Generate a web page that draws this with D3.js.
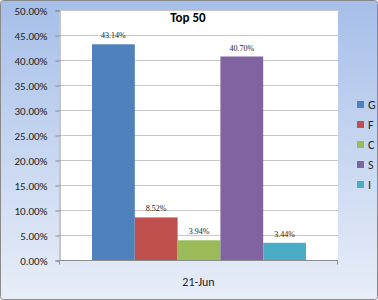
<!DOCTYPE html>
<meta charset="utf-8">
<script src="https://d3js.org/d3.v7.min.js"></script>
<style>
  body { margin: 0; background: #fff; }
</style>
<div id="chart"></div>
<script>

var series = ["G", "F", "C", "S", "I"];
var values = [43.14, 8.52, 3.94, 40.70, 3.44];
var category = "21-Jun";
var yTicks = [0, 5, 10, 15, 20, 25, 30, 35, 40, 45, 50];
var colors = ["#4f81bd", "#c0504d", "#9bbb59", "#8064a2", "#4bacc6"];

var W = 378, H = 300;
var plot = {left: 59, right: 338, top: 10, bottom: 260};
var sans = "Calibri, Carlito, 'Liberation Sans', Arial, sans-serif";

var svg = d3.select("#chart").append("svg")
  .attr("width", W).attr("height", H);

// background gradient
var grad = svg.append("defs").append("linearGradient")
  .attr("id", "bg").attr("x1", 0).attr("y1", 0).attr("x2", 0).attr("y2", 1);
grad.append("stop").attr("offset", "0%").attr("stop-color", "#a6bfe9");
grad.append("stop").attr("offset", "100%").attr("stop-color", "#e8eef8");

svg.append("rect")
  .attr("x", 0.5).attr("y", 0.5).attr("width", W - 1).attr("height", H - 1)
  .attr("rx", 3)
  .attr("fill", "url(#bg)").attr("stroke", "#8a8a8a");

// plot area
svg.append("rect")
  .attr("x", plot.left).attr("y", plot.top)
  .attr("width", plot.right - plot.left).attr("height", plot.bottom - plot.top)
  .attr("fill", "#fff");

var y = d3.scaleLinear().domain([0, 50]).range([plot.bottom, plot.top]);
var x0 = d3.scaleBand().domain([category]).range([plot.left, plot.right])
  .paddingInner(0).paddingOuter(0.12);
var x1 = d3.scaleBand().domain(series).range([92 - plot.left, 306 - plot.left]);

// gridlines
svg.append("g").selectAll("line").data(yTicks.slice(1)).join("line")
  .attr("x1", plot.left).attr("x2", plot.right)
  .attr("y1", function(d) { return y(d) + 0.5; })
  .attr("y2", function(d) { return y(d) + 0.5; })
  .attr("stroke", "#c8c8c8");

// y axis
var yAxis = svg.append("g")
  .attr("transform", "translate(" + (plot.left + 0.5) + ",0.5)")
  .call(d3.axisLeft(y).tickValues(yTicks).tickSize(4).tickPadding(8)
    .tickFormat(function(d) { return d.toFixed(2) + "%"; }));
yAxis.select(".domain").attr("stroke", "#8c8c8c");
yAxis.selectAll(".tick line").attr("stroke", "#8c8c8c");
yAxis.selectAll("text")
  .attr("font-family", sans)
  .attr("font-size", 11).attr("fill", "#222");

// x axis
var xAxis = svg.append("g")
  .attr("transform", "translate(0," + (plot.bottom + 0.5) + ")");
xAxis.append("line")
  .attr("x1", plot.left).attr("x2", plot.right)
  .attr("stroke", "#8c8c8c");
xAxis.selectAll(".tk").data([plot.left + 0.5, plot.right - 0.5]).join("line")
  .attr("x1", function(d) { return d; }).attr("x2", function(d) { return d; })
  .attr("y1", 0).attr("y2", 4).attr("stroke", "#8c8c8c");
xAxis.append("text")
  .attr("x", x0(category) + x0.bandwidth() / 2)
  .attr("y", 25)
  .attr("text-anchor", "middle")
  .attr("font-family", sans)
  .attr("font-size", 12).attr("fill", "#222")
  .text(category);

// bars
var g = svg.append("g").attr("transform", "translate(" + plot.left + ",0)");
g.selectAll("rect").data(values).join("rect")
  .attr("x", function(d, i) { return x1(series[i]); })
  .attr("y", function(d) { return y(d); })
  .attr("width", x1.bandwidth())
  .attr("height", function(d) { return plot.bottom - y(d); })
  .attr("fill", function(d, i) { return colors[i]; });

g.selectAll("text").data(values).join("text")
  .attr("x", function(d, i) { return x1(series[i]) + x1.bandwidth() / 2; })
  .attr("y", function(d) { return y(d) - 6; })
  .attr("text-anchor", "middle")
  .attr("font-family", "'Liberation Serif', 'DejaVu Serif', serif")
  .attr("font-size", 8).attr("fill", "#222")
  .text(function(d) { return d.toFixed(2) + "%"; });

// title
svg.append("text")
  .attr("x", 188).attr("y", 22)
  .attr("text-anchor", "middle")
  .attr("font-family", sans)
  .attr("font-size", 13).attr("font-weight", "bold").attr("fill", "#000")
  .text("Top 50");

// legend
var legend = svg.append("g").selectAll("g").data(series).join("g")
  .attr("transform", function(d, i) { return "translate(357," + (101 + i * 20) + ")"; });
legend.append("rect")
  .attr("width", 7).attr("height", 7)
  .attr("fill", function(d, i) { return colors[i]; });
legend.append("text")
  .attr("x", 11).attr("y", 8)
  .attr("font-family", sans)
  .attr("font-size", 12).attr("fill", "#222")
  .text(function(d) { return d; });

</script>
